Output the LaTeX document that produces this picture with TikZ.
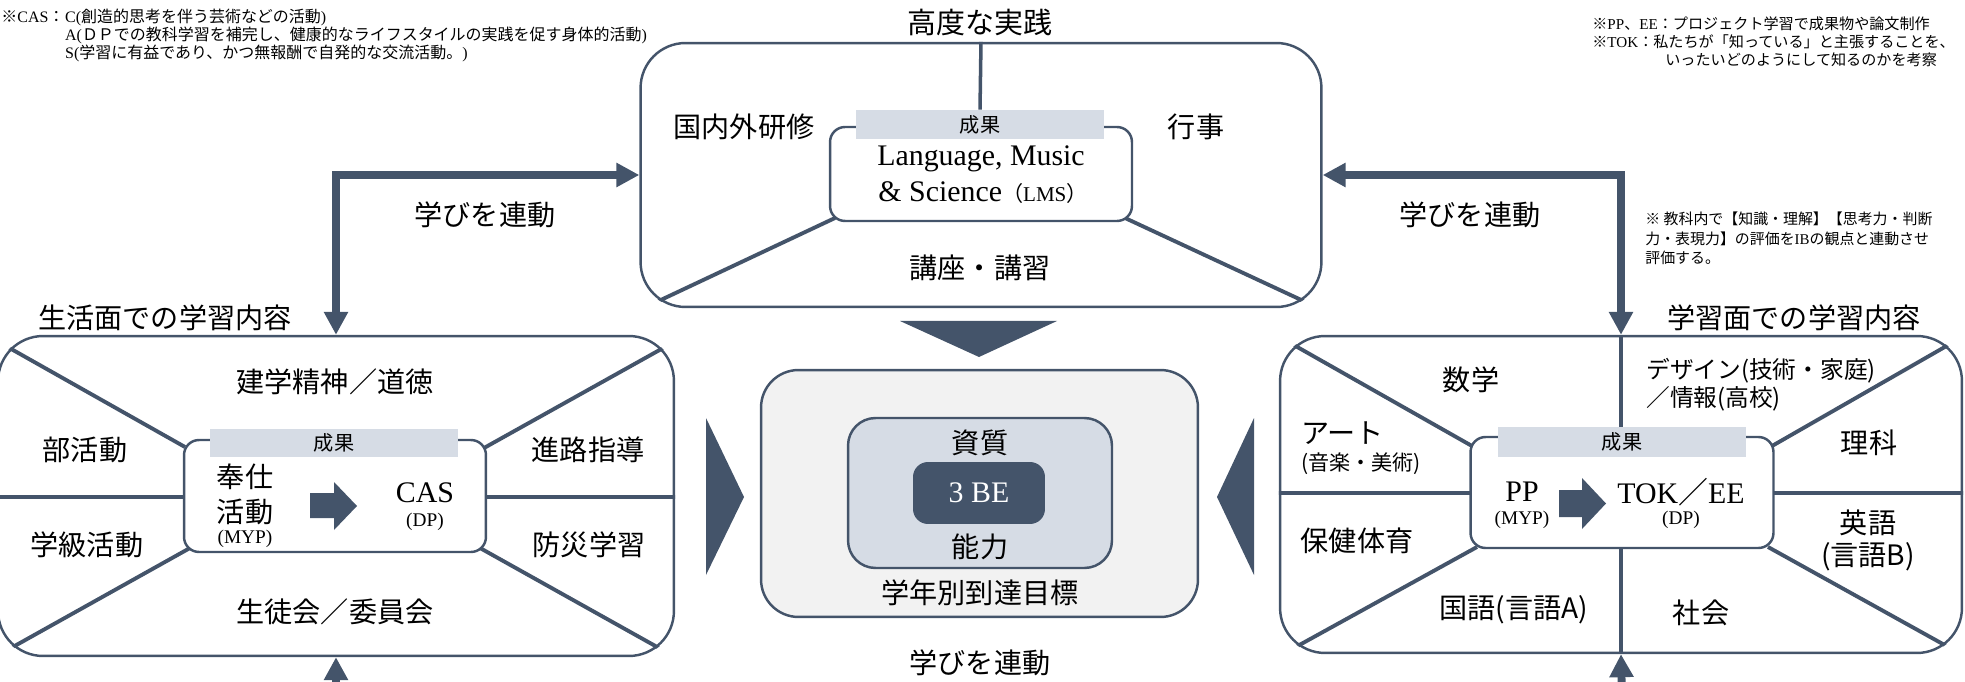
\documentclass[tikz,border=0pt]{standalone}
\usepackage{fontspec}
\setmainfont{Liberation Serif}
\newfontfamily\cjk{Noto Sans CJK JP}
\usetikzlibrary{arrows.meta,calc}
\newcommand\setfs[1]{\fontsize{#1}{#1}\selectfont}
\newcommand\J[1]{{\cjk #1}}
\definecolor{slate}{HTML}{44546A}
\definecolor{bandc}{HTML}{D6DCE5}
\definecolor{lightg}{HTML}{F2F2F2}
\pgfdeclarelayer{bg}
\pgfsetlayers{bg,main}
\tikzset{
  bigbox/.style={draw=slate, line width=1.4pt, rounded corners=0.9cm, inner sep=0pt},
  inbox/.style={draw=slate, line width=1.4pt, fill=white, rounded corners=0.3cm, inner sep=0pt},
  bandbox/.style={fill=bandc, inner sep=0pt, font={\cjk\setfs{11.5}}},
  divline/.style={draw=slate, line width=2.2pt},
  conn/.style={draw=slate, line width=4.5pt, line join=miter},
  twotip/.style={arrows={Triangle[length=0.46cm,width=0.46cm]-Triangle[length=0.46cm,width=0.46cm]}},
  onetip/.style={arrows={-Triangle[length=0.46cm,width=0.46cm]}},
  lbl/.style={inner sep=0pt, font={\cjk\setfs{16}}},
  lat/.style={inner sep=0pt, font={\setfs{17}}},
  sml/.style={inner sep=0pt, font={\setfs{11}}},
  note/.style={inner sep=0pt, font={\setfs{9.1}}},
  tnote/.style={inner sep=0pt, anchor=west, font={\setfs{8.6}}},
  rnote/.style={inner sep=0pt, anchor=west, font={\cjk\setfs{8.5}}},
}
\begin{document}
\begin{tikzpicture}[x=0.02cm,y=-0.02cm]
\useasboundingbox (0,0) rectangle (1965,682);

% ---------- notes ----------
\node[note, anchor=west] (n1a) at (1,17) {\J{※}CAS\J{：}};
\node[note, anchor=west] (n1b) at (n1a.east) {C(\J{創造的思考を伴う芸術などの活動})};
\node[note, anchor=west] (n2) at ([yshift=-0.36cm]n1b.west) {A(\J{ＤＰでの教科学習を補完し、健康的なライフスタイルの実践を促す身体的活動})};
\node[note, anchor=west] (n3) at ([yshift=-0.72cm]n1b.west) {S(\J{学習に有益であり、かつ無報酬で自発的な交流活動。})};

\node[tnote] (m1) at (1592,24) {\J{※}PP\J{、}EE\J{：プロジェクト学習で成果物や論文制作}};
\node[tnote] (m2) at (1592,42) {\J{※}TOK\J{：私たちが「知っている」と主張することを、}};
\node[tnote] (m3) at (1665,60) {\J{いったいどのようにして知るのかを考察}};

\node[rnote] (r1) at (1645,219) {※ 教科内で【知識・理解】【思考力・判断};
\node[rnote] (r2) at (1645,239) {力・表現力】の評価を{\rmfamily IB}の観点と連動させ};
\node[rnote] (r3) at (1645,258) {評価する。};

% ---------- outer boxes ----------
\node[bigbox, minimum width=13.62cm, minimum height=5.28cm] (top) at (981,175) {};
\node[bigbox, minimum width=13.52cm, minimum height=6.4cm] (lbox) at (336,496) {};
\node[bigbox, minimum width=13.64cm, minimum height=6.34cm] (rbox) at (1621,494.5) {};

% ---------- inner boxes ----------
\node[inbox, minimum width=6.04cm, minimum height=1.88cm] (topin) at (981,174) {};
\node[bandbox, minimum width=4.96cm, minimum height=0.58cm] (topband) at (980,124.5) {成果};
\node[inbox, minimum width=6.04cm, minimum height=2.24cm] (lin) at (335,496) {};
\node[bandbox, minimum width=4.96cm, minimum height=0.56cm] (lband) at (334,443) {成果};
\node[inbox, minimum width=6.06cm, minimum height=2.22cm] (rin) at (1622,492.5) {};
\node[bandbox, minimum width=4.96cm, minimum height=0.6cm] (rband) at (1622,442) {成果};

% ---------- divider lines (behind) ----------
\begin{pgfonlayer}{bg}
\begin{scope}
\clip[rounded corners=0.9cm] (top.south west) rectangle (top.north east);
\draw[divline] (835,218) -- ($(835,218)!1.5!(665,298)$);
\draw[divline] (1125,218) -- ($(1125,218)!1.5!(1297,298)$);
\draw[divline, line width=2pt] (top.north) -- (topband.north);
\end{scope}
\begin{scope}
\clip[rounded corners=0.9cm] (lbox.south west) rectangle (lbox.north east);
\draw[divline] (185,447) -- ($(185,447)!1.5!(13,350)$);
\draw[divline] (484,448) -- ($(484,448)!1.5!(656,352)$);
\draw[divline] (190,548) -- ($(190,548)!1.5!(20,643)$);
\draw[divline] (480,548) -- ($(480,548)!1.5!(650,643)$);
\draw[divline, line width=2pt] (-20,497) -- (700,497);
\end{scope}
\begin{scope}
\clip[rounded corners=0.9cm] (rbox.south west) rectangle (rbox.north east);
\draw[divline] (1472,446) -- ($(1472,446)!1.5!(1299,348)$);
\draw[divline] (1772,446) -- ($(1772,446)!1.5!(1943,348)$);
\draw[divline] (1477,547) -- ($(1477,547)!1.5!(1303,643)$);
\draw[divline] (1768,547) -- ($(1768,547)!1.5!(1941,643)$);
\draw[divline, line width=2pt] (1260,493) -- (1990,493);
\draw[divline, line width=2pt] (rbox.north) -- (rbox.south);
\end{scope}
\end{pgfonlayer}

% ---------- center ----------
\node[draw=slate, line width=1.4pt, fill=lightg, rounded corners=0.75cm, minimum width=8.74cm, minimum height=4.94cm, inner sep=0pt] (cbox) at (979.5,493.5) {};
\node[draw=slate, line width=1.4pt, fill=bandc, rounded corners=0.55cm, minimum width=5.28cm, minimum height=3.0cm, inner sep=0pt] (cin) at (980,493) {};
\node[fill=slate, rounded corners=0.3cm, minimum width=2.64cm, minimum height=1.24cm, inner sep=0pt, text=white, font={\setfs{17}}] (c3) at (979,493) {3 BE};
\node[lbl] (shishitsu) at (980,443) {資質};
\node[lbl] (nouryoku) at (980,547) {能力};
\node[lbl] (goal) at (980,593) {学年別到達目標};

\fill[slate] (900,321) -- (1057,321) -- (979,357) -- cycle;
\fill[slate] (706,418) -- (706,575) -- (744,497) -- cycle;
\fill[slate] (1254,418) -- (1254,575) -- (1217,497) -- cycle;

% ---------- connectors ----------
\coordinate (lb) at (336,700);
\coordinate (rb) at (1622,700);
\draw[conn, twotip] (top.west) -| (lbox.north);
\draw[conn, twotip] (top.east) -| (rbox.north);
\draw[conn, onetip] (lb) -- (lbox.south);
\draw[conn, onetip] (rb) -- (rbox.south);

% ---------- top box texts ----------
\node[lbl, font={\cjk\setfs{16.5}}] (title) at (980,22) {高度な実践};
\node[lbl] (kenshu) at (744,127) {国内外研修};
\node[lbl] (gyoji) at (1196,127) {行事};
\node[lat] (lms1) at (981,159) {Language, Music};
\node[lat] (lms2) at (983,193) {\& Science\J{\setfs{12}（}{\setfs{12}LMS}\J{\setfs{12}）}};
\node[lbl] (koza) at (980,268) {講座・講習};

\node[lbl] (manabi1) at (485,215) {学びを連動};
\node[lbl] (manabi2) at (1470,215) {学びを連動};
\node[lbl] (manabi3) at (980,663) {学びを連動};

% ---------- left box texts ----------
\node[lbl] (ltitle) at (165,318) {生活面での学習内容};
\node[lbl] (kengaku) at (335,382) {建学精神／道徳};
\node[lbl] (bukatsu) at (85,450) {部活動};
\node[lbl] (shinro) at (588,450) {進路指導};
\node[lbl] (gakkyu) at (87,545) {学級活動};
\node[lbl] (bousai) at (589,545) {防災学習};
\node[lbl] (seito) at (335,612) {生徒会／委員会};
\node[lbl] (houshi) at (245,477) {奉仕};
\node[lbl] (katsudo) at (245,512) {活動};
\node[sml] (lmyp) at (245,539) {(MYP)};
\node[lat] (cas) at (425,493) {CAS};
\node[sml] (ldp) at (425,522) {(DP)};
\fill[slate] (310,493) -- (334,493) -- (334,482) -- (357,506) -- (334,530) -- (334,518) -- (310,518) -- cycle;

% ---------- right box texts ----------
\node[lbl] (rtitle) at (1794,318) {学習面での学習内容};
\node[lbl] (sugaku) at (1471,380) {数学};
\node[lbl, anchor=west, font={\cjk\setfs{13.5}}] (design) at (1646,371) {デザイン(技術・家庭)};
\node[lbl, anchor=west, font={\cjk\setfs{13.5}}] (joho) at (1646,399) {／情報(高校)};
\node[lbl, anchor=west] (art) at (1301,433) {アート};
\node[lbl, anchor=west, font={\cjk\setfs{12}}] (ongaku) at (1301,464) {(音楽・美術)};
\node[lbl] (rika) at (1869,443) {理科};
\node[lat] (pp) at (1522,492) {PP};
\node[sml] (rmyp) at (1522,520) {(MYP)};
\node[lat] (tok) at (1681,492) {TOK\J{／}EE};
\node[sml] (rdp) at (1681,520) {(DP)};
\fill[slate] (1559,490) -- (1582,490) -- (1582,478) -- (1606,503.5) -- (1582,529) -- (1582,517) -- (1559,517) -- cycle;
\node[lbl] (hoken) at (1357,541) {保健体育};
\node[lbl] (eigo) at (1868,523) {英語};
\node[lbl] (gengob) at (1868,557) {(言語B)};
\node[lbl] (kokugo) at (1514,610) {国語(言語A)};
\node[lbl] (shakai) at (1701,613) {社会};
\end{tikzpicture}
\end{document}
